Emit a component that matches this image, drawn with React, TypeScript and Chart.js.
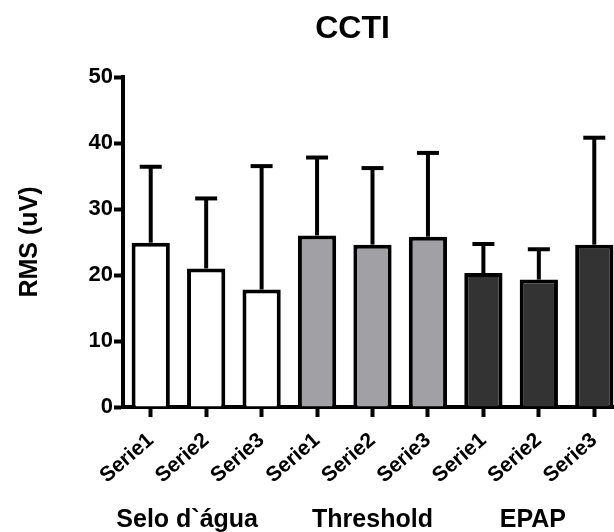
import React, { useEffect, useRef } from 'react';
import { Chart, registerables } from 'chart.js';

Chart.register(...registerables);

const categories = ['Serie1', 'Serie2', 'Serie3', 'Serie1', 'Serie2', 'Serie3', 'Serie1', 'Serie2', 'Serie3'];
const groups = ['Selo d`água', 'Threshold', 'EPAP'];
const groupOf = [0, 0, 0, 1, 1, 1, 2, 2, 2];
const means = [24.9, 21.0, 17.8, 26.0, 24.6, 25.8, 20.3, 19.3, 24.6];
const errors = [11.5, 10.6, 18.7, 11.8, 11.6, 12.7, 4.4, 4.6, 16.2];
const yTicks = [0, 10, 20, 30, 40, 50];
const chartTitle = 'CCTI';
const yTitle = 'RMS (uV)';

const groupColors = ['#ffffff', '#a1a1a5', '#333333'];
const FONT = '"Liberation Sans", Arial, Helvetica, sans-serif';

const errorBarPlugin = {
  id: 'errorBars',
  afterDatasetsDraw(chart: any) {
    const meta = chart.getDatasetMeta(0);
    const yScale = chart.scales.y;
    const ctx = chart.ctx;
    ctx.save();
    ctx.strokeStyle = '#000';
    ctx.lineWidth = 4;
    ctx.lineCap = 'butt';
    meta.data.forEach((bar: any, i: number) => {
      const top = yScale.getPixelForValue(means[i] + errors[i]);
      ctx.beginPath();
      ctx.moveTo(bar.x, bar.y);
      ctx.lineTo(bar.x, top);
      ctx.stroke();
      ctx.beginPath();
      ctx.moveTo(bar.x - 11, top);
      ctx.lineTo(bar.x + 11, top);
      ctx.stroke();
    });
    ctx.restore();
  },
};

const textPlugin = {
  id: 'extraText',
  afterDraw(chart: any) {
    const ctx = chart.ctx;
    const xScale = chart.scales.x;
    const area = chart.chartArea;
    ctx.save();
    ctx.fillStyle = '#000';
    ctx.textBaseline = 'alphabetic';
    ctx.textAlign = 'center';
    // title
    ctx.font = `bold 32px ${FONT}`;
    ctx.fillText(chartTitle, (area.left + area.right) / 2 - 20, 38);
    // group labels
    const nudges = [-19, 0, -6];
    ctx.font = `bold 25px ${FONT}`;
    groups.forEach((g, gi) => {
      const idx = groupOf.map((v, i) => (v === gi ? i : -1)).filter((i) => i >= 0);
      const cx = idx.reduce((s, i) => s + xScale.getPixelForValue(i), 0) / idx.length;
      ctx.fillText(g, cx + nudges[gi], chart.height - 5);
    });
    ctx.restore();
  },
};

export default function App() {
  const ref = useRef<HTMLCanvasElement | null>(null);

  useEffect(() => {
    if (!ref.current) return;
    const chart = new Chart(ref.current, {
      type: 'bar',
      data: {
        labels: categories,
        datasets: [
          {
            data: means,
            backgroundColor: groupOf.map((g) => groupColors[g]),
            borderColor: '#000',
            borderWidth: 4,
            barPercentage: 0.69,
            categoryPercentage: 1,
          },
        ],
      },
      options: {
        animation: false,
        responsive: false,
        devicePixelRatio: 1,
        layout: { padding: { top: 77, left: 0, right: 18, bottom: 0 } },
        plugins: {
          legend: { display: false },
          tooltip: { enabled: false },
          title: { display: false },
        },
        scales: {
          x: {
            type: 'category',
            grid: {
              offset: false,
              drawOnChartArea: false,
              drawTicks: true,
              tickLength: 10,
              tickWidth: 4,
              tickColor: '#000',
            },
            border: { display: true, width: 4, color: '#000' },
            ticks: {
              autoSkip: false,
              maxRotation: 41,
              minRotation: 41,
              padding: 11,
              color: '#000',
              font: { family: FONT, size: 21, weight: 'bold' },
            },
            afterFit: (s: any) => {
              s.height = 125;
            },
          },
          y: {
            min: 0,
            max: 50,
            grid: {
              drawOnChartArea: false,
              drawTicks: true,
              tickLength: 9,
              tickWidth: 4,
              tickColor: '#000',
            },
            border: { display: true, width: 4, color: '#000' },
            ticks: {
              padding: 1,
              color: '#000',
              font: { family: FONT, size: 22, weight: 'bold' },
            },
            afterBuildTicks: (s: any) => {
              s.ticks = yTicks.map((v) => ({ value: v }));
            },
            title: {
              display: true,
              text: yTitle,
              color: '#000',
              padding: { top: 15, bottom: 0 },
              font: { family: FONT, size: 25, weight: 'bold' },
            },
            afterFit: (s: any) => {
              s.width = 123;
            },
          },
        },
      } as any,
      plugins: [errorBarPlugin, textPlugin],
    });
    return () => chart.destroy();
  }, []);

  return (
    <div
      style={{
        position: 'absolute',
        left: 0,
        top: 0,
        width: 614,
        height: 532,
        overflow: 'hidden',
        background: '#fff',
      }}
    >
      <canvas ref={ref} width={640} height={532} style={{ width: 640, height: 532, display: 'block' }} />
    </div>
  );
}
